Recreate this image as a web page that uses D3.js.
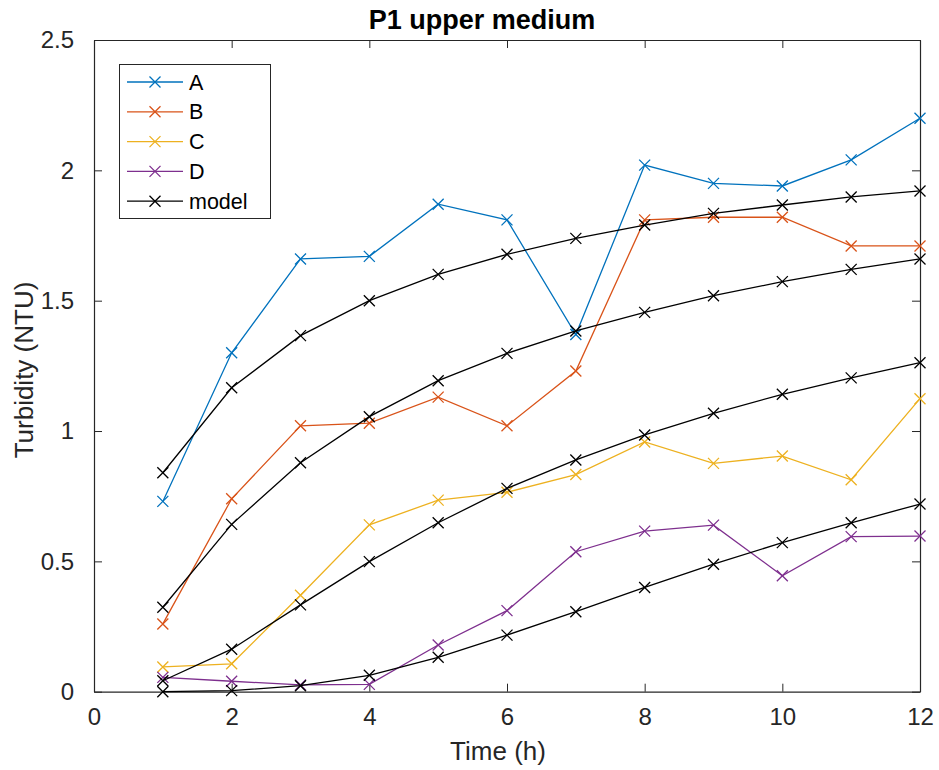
<!DOCTYPE html>
<html>
<head>
<meta charset="utf-8">
<script src="https://cdn.jsdelivr.net/npm/d3@7"></script>
<style>
  html, body { margin: 0; padding: 0; background: #fff; }
  svg { display: block; font-family: "Liberation Sans", Arial, Helvetica, sans-serif; }
</style>
</head>
<body>
<svg id="chart" width="939" height="770"></svg>
<script>
// ---- data ----
const time = [1, 2, 3, 4, 5, 6, 7, 8, 9, 10, 11, 12];
const seriesA = [0.73, 1.30, 1.66, 1.67, 1.87, 1.81, 1.37, 2.02, 1.95, 1.94, 2.04, 2.20];
const seriesB = [0.26, 0.74, 1.02, 1.03, 1.13, 1.02, 1.23, 1.81, 1.82, 1.82, 1.71, 1.71];
const seriesC = [0.095, 0.107, 0.37, 0.64, 0.735, 0.765, 0.833, 0.958, 0.876, 0.904, 0.813, 1.124];
const seriesD = [0.055, 0.040, 0.026, 0.028, 0.179, 0.311, 0.537, 0.616, 0.639, 0.445, 0.595, 0.597];
const model1 = [0.84, 1.166, 1.366, 1.50, 1.601, 1.678, 1.739, 1.790, 1.835, 1.867, 1.898, 1.921];
const model2 = [0.324, 0.642, 0.878, 1.055, 1.193, 1.298, 1.384, 1.455, 1.519, 1.573, 1.620, 1.660];
const model3 = [0.042, 0.163, 0.333, 0.499, 0.648, 0.780, 0.889, 0.985, 1.068, 1.141, 1.204, 1.262];
const model4 = [0.0, 0.004, 0.023, 0.063, 0.132, 0.217, 0.307, 0.400, 0.489, 0.572, 0.648, 0.720];
const seriesNames = ["A", "B", "C", "D", "model"];
const xTicks = [0, 2, 4, 6, 8, 10, 12];
const yTicks = [0, 0.5, 1, 1.5, 2, 2.5];
const titleText = "P1 upper medium";
const xLabel = "Time (h)";
const yLabel = "Turbidity (NTU)";

const colors = { A: "#0072BD", B: "#D95319", C: "#EDB120", D: "#7E2F8E", model: "#000000" };

// ---- layout ----
const pLeft = 94, pRight = 920, pTop = 40, pBottom = 691.7;
const svg = d3.select("#chart");
const x = d3.scaleLinear().domain([0, 12]).range([pLeft, pRight]);
const y = d3.scaleLinear().domain([0, 2.5]).range([pBottom, pTop]);
const axisColor = "#262626";
const tickLen = 8;

// axes (MATLAB style box with inward ticks on all four sides)
const fmt = d => d3.format("")(d);
const gx = svg.append("g").attr("transform", `translate(0,${pBottom})`)
  .call(d3.axisBottom(x).tickValues(xTicks).tickFormat(fmt).tickSizeInner(-tickLen).tickSizeOuter(0).tickPadding(16));
const gxTop = svg.append("g").attr("transform", `translate(0,${pTop})`)
  .call(d3.axisTop(x).tickValues(xTicks).tickFormat("").tickSizeInner(-tickLen).tickSizeOuter(0));
const gy = svg.append("g").attr("transform", `translate(${pLeft},0)`)
  .call(d3.axisLeft(y).tickValues(yTicks).tickFormat(fmt).tickSizeInner(-tickLen).tickSizeOuter(0).tickPadding(20));
const gyRight = svg.append("g").attr("transform", `translate(${pRight},0)`)
  .call(d3.axisRight(y).tickValues(yTicks).tickFormat("").tickSizeInner(-tickLen).tickSizeOuter(0));

[gx, gxTop, gy, gyRight].forEach(g => {
  g.select(".domain").attr("stroke", axisColor).attr("stroke-width", 1.2);
  g.selectAll(".tick line").attr("stroke", axisColor).attr("stroke-width", 1);
  g.selectAll("text").attr("fill", axisColor).style("font-size", "24px")
    .style("font-family", '"Liberation Sans", Arial, sans-serif');
});

// lines
const line = d3.line().x((d, i) => x(time[i])).y(d => y(d));
const xMarker = (g, data, color) => {
  const s = 5.5;
  g.selectAll(null).data(data).enter().append("path")
    .attr("d", (d, i) => {
      const cx = x(time[i]), cy = y(d);
      return `M${cx - s},${cy - s}L${cx + s},${cy + s}M${cx - s},${cy + s}L${cx + s},${cy - s}`;
    })
    .attr("stroke", color).attr("stroke-width", 1.3).attr("fill", "none");
};
const drawSeries = (data, color) => {
  const g = svg.append("g");
  g.append("path").datum(data).attr("d", line)
    .attr("fill", "none").attr("stroke", color).attr("stroke-width", 1.3);
  xMarker(g, data, color);
};
drawSeries(seriesA, colors.A);
drawSeries(seriesB, colors.B);
drawSeries(seriesC, colors.C);
drawSeries(seriesD, colors.D);
[model1, model2, model3, model4].forEach(m => drawSeries(m, colors.model));

// title and labels
svg.append("text").attr("x", 482).attr("y", 29).attr("text-anchor", "middle")
  .style("font-size", "27px").style("font-weight", "bold").attr("fill", "#000").text(titleText);
svg.append("text").attr("x", 498).attr("y", 760).attr("text-anchor", "middle")
  .style("font-size", "26px").attr("fill", axisColor).text(xLabel);
svg.append("text").attr("transform", `translate(33,370) rotate(-90)`).attr("text-anchor", "middle")
  .style("font-size", "26px").attr("fill", axisColor).text(yLabel);

// legend
const lg = svg.append("g");
lg.append("rect").attr("x", 119.5).attr("y", 64.5).attr("width", 151).attr("height", 154)
  .attr("fill", "#fff").attr("stroke", axisColor).attr("stroke-width", 1);
seriesNames.forEach((name, i) => {
  const cy = 82 + i * 29.8;
  const c = colors[name];
  lg.append("line").attr("x1", 127).attr("x2", 183).attr("y1", cy).attr("y2", cy)
    .attr("stroke", c).attr("stroke-width", 1.3);
  const s = 5.5, cx = 155;
  lg.append("path").attr("d", `M${cx - s},${cy - s}L${cx + s},${cy + s}M${cx - s},${cy + s}L${cx + s},${cy - s}`)
    .attr("stroke", c).attr("stroke-width", 1.3);
  lg.append("text").attr("x", 189).attr("y", cy + 7.5).style("font-size", "21.5px")
    .attr("fill", "#000").text(name);
});
</script>
</body>
</html>
